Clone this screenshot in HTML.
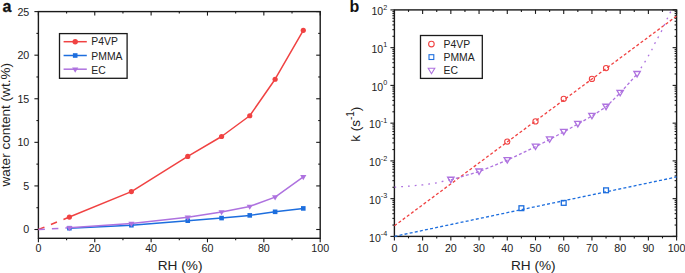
<!DOCTYPE html>
<html><head><meta charset="utf-8"><style>
html,body{margin:0;padding:0;background:#fff;}
body{width:685px;height:273px;overflow:hidden;}
svg{display:block;}
text{font-family:"Liberation Sans",sans-serif;fill:#222;}
</style></head><body>
<svg width="685" height="273" viewBox="0 0 685 273">
<rect width="685" height="273" fill="#fff"/>
<line x1="38.4" y1="238.3" x2="38.4" y2="242.3" stroke="#1a1a1a" stroke-width="1.1" />
<line x1="38.4" y1="11.6" x2="38.4" y2="15.6" stroke="#1a1a1a" stroke-width="1.1" />
<line x1="66.58" y1="238.3" x2="66.58" y2="240.3" stroke="#1a1a1a" stroke-width="1.1" />
<line x1="66.58" y1="11.6" x2="66.58" y2="13.6" stroke="#1a1a1a" stroke-width="1.1" />
<line x1="94.76" y1="238.3" x2="94.76" y2="242.3" stroke="#1a1a1a" stroke-width="1.1" />
<line x1="94.76" y1="11.6" x2="94.76" y2="15.6" stroke="#1a1a1a" stroke-width="1.1" />
<line x1="122.94" y1="238.3" x2="122.94" y2="240.3" stroke="#1a1a1a" stroke-width="1.1" />
<line x1="122.94" y1="11.6" x2="122.94" y2="13.6" stroke="#1a1a1a" stroke-width="1.1" />
<line x1="151.12" y1="238.3" x2="151.12" y2="242.3" stroke="#1a1a1a" stroke-width="1.1" />
<line x1="151.12" y1="11.6" x2="151.12" y2="15.6" stroke="#1a1a1a" stroke-width="1.1" />
<line x1="179.3" y1="238.3" x2="179.3" y2="240.3" stroke="#1a1a1a" stroke-width="1.1" />
<line x1="179.3" y1="11.6" x2="179.3" y2="13.6" stroke="#1a1a1a" stroke-width="1.1" />
<line x1="207.48" y1="238.3" x2="207.48" y2="242.3" stroke="#1a1a1a" stroke-width="1.1" />
<line x1="207.48" y1="11.6" x2="207.48" y2="15.6" stroke="#1a1a1a" stroke-width="1.1" />
<line x1="235.66" y1="238.3" x2="235.66" y2="240.3" stroke="#1a1a1a" stroke-width="1.1" />
<line x1="235.66" y1="11.6" x2="235.66" y2="13.6" stroke="#1a1a1a" stroke-width="1.1" />
<line x1="263.84" y1="238.3" x2="263.84" y2="242.3" stroke="#1a1a1a" stroke-width="1.1" />
<line x1="263.84" y1="11.6" x2="263.84" y2="15.6" stroke="#1a1a1a" stroke-width="1.1" />
<line x1="292.02" y1="238.3" x2="292.02" y2="240.3" stroke="#1a1a1a" stroke-width="1.1" />
<line x1="292.02" y1="11.6" x2="292.02" y2="13.6" stroke="#1a1a1a" stroke-width="1.1" />
<line x1="320.2" y1="238.3" x2="320.2" y2="242.3" stroke="#1a1a1a" stroke-width="1.1" />
<line x1="320.2" y1="11.6" x2="320.2" y2="15.6" stroke="#1a1a1a" stroke-width="1.1" />
<line x1="34.4" y1="229.5" x2="38.4" y2="229.5" stroke="#1a1a1a" stroke-width="1.1" />
<line x1="316.2" y1="229.5" x2="320.2" y2="229.5" stroke="#1a1a1a" stroke-width="1.1" />
<line x1="36.4" y1="207.71" x2="38.4" y2="207.71" stroke="#1a1a1a" stroke-width="1.1" />
<line x1="318.2" y1="207.71" x2="320.2" y2="207.71" stroke="#1a1a1a" stroke-width="1.1" />
<line x1="34.4" y1="185.92" x2="38.4" y2="185.92" stroke="#1a1a1a" stroke-width="1.1" />
<line x1="316.2" y1="185.92" x2="320.2" y2="185.92" stroke="#1a1a1a" stroke-width="1.1" />
<line x1="36.4" y1="164.13" x2="38.4" y2="164.13" stroke="#1a1a1a" stroke-width="1.1" />
<line x1="318.2" y1="164.13" x2="320.2" y2="164.13" stroke="#1a1a1a" stroke-width="1.1" />
<line x1="34.4" y1="142.34" x2="38.4" y2="142.34" stroke="#1a1a1a" stroke-width="1.1" />
<line x1="316.2" y1="142.34" x2="320.2" y2="142.34" stroke="#1a1a1a" stroke-width="1.1" />
<line x1="36.4" y1="120.55" x2="38.4" y2="120.55" stroke="#1a1a1a" stroke-width="1.1" />
<line x1="318.2" y1="120.55" x2="320.2" y2="120.55" stroke="#1a1a1a" stroke-width="1.1" />
<line x1="34.4" y1="98.76" x2="38.4" y2="98.76" stroke="#1a1a1a" stroke-width="1.1" />
<line x1="316.2" y1="98.76" x2="320.2" y2="98.76" stroke="#1a1a1a" stroke-width="1.1" />
<line x1="36.4" y1="76.97" x2="38.4" y2="76.97" stroke="#1a1a1a" stroke-width="1.1" />
<line x1="318.2" y1="76.97" x2="320.2" y2="76.97" stroke="#1a1a1a" stroke-width="1.1" />
<line x1="34.4" y1="55.18" x2="38.4" y2="55.18" stroke="#1a1a1a" stroke-width="1.1" />
<line x1="316.2" y1="55.18" x2="320.2" y2="55.18" stroke="#1a1a1a" stroke-width="1.1" />
<line x1="36.4" y1="33.39" x2="38.4" y2="33.39" stroke="#1a1a1a" stroke-width="1.1" />
<line x1="318.2" y1="33.39" x2="320.2" y2="33.39" stroke="#1a1a1a" stroke-width="1.1" />
<line x1="34.4" y1="11.6" x2="38.4" y2="11.6" stroke="#1a1a1a" stroke-width="1.1" />
<line x1="316.2" y1="11.6" x2="320.2" y2="11.6" stroke="#1a1a1a" stroke-width="1.1" />
<rect x="38.4" y="11.6" width="281.8" height="226.7" fill="none" stroke="#1a1a1a" stroke-width="1.4"/>
<text x="38.4" y="251.7" font-size="10.7" text-anchor="middle" font-weight="normal" >0</text>
<text x="94.76" y="251.7" font-size="10.7" text-anchor="middle" font-weight="normal" >20</text>
<text x="151.12" y="251.7" font-size="10.7" text-anchor="middle" font-weight="normal" >40</text>
<text x="207.48" y="251.7" font-size="10.7" text-anchor="middle" font-weight="normal" >60</text>
<text x="263.84" y="251.7" font-size="10.7" text-anchor="middle" font-weight="normal" >80</text>
<text x="320.2" y="251.7" font-size="10.7" text-anchor="middle" font-weight="normal" >100</text>
<text x="29.3" y="233.4" font-size="10.7" text-anchor="end" font-weight="normal" >0</text>
<text x="29.3" y="189.82" font-size="10.7" text-anchor="end" font-weight="normal" >5</text>
<text x="29.3" y="146.24" font-size="10.7" text-anchor="end" font-weight="normal" >10</text>
<text x="29.3" y="102.66" font-size="10.7" text-anchor="end" font-weight="normal" >15</text>
<text x="29.3" y="59.08" font-size="10.7" text-anchor="end" font-weight="normal" >20</text>
<text x="29.3" y="15.5" font-size="10.7" text-anchor="end" font-weight="normal" >25</text>
<text x="180.1" y="269.7" font-size="13.65" text-anchor="middle" font-weight="normal" >RH (%)</text>
<text transform="translate(10.2,124.75) rotate(-90)" font-size="13.55" text-anchor="middle">water content (wt.%)</text>
<text x="2.5" y="11.6" font-size="16" text-anchor="start" font-weight="bold" stroke="#111" stroke-width="0.3" style="fill:#111">a</text>
<polyline points="38.4,229.5 69.4,217.04" fill="none" stroke="#f04242" stroke-width="1.5" stroke-linejoin="round" stroke-dasharray="6.5,7"/>
<polyline points="38.4,229.5 69.4,227.84" fill="none" stroke="#ae72df" stroke-width="1.5" stroke-linejoin="round" stroke-dasharray="6.5,7"/>
<polyline points="69.4,228.19 131.39,225.23 187.75,220.7 221.57,218.08 249.75,215.38 275.11,211.81 303.29,208.41" fill="none" stroke="#1d6ede" stroke-width="1.5" stroke-linejoin="round" />
<rect x="67.1" y="225.89" width="4.6" height="4.6" fill="#1d6ede"/>
<rect x="129.09" y="222.93" width="4.6" height="4.6" fill="#1d6ede"/>
<rect x="185.45" y="218.4" width="4.6" height="4.6" fill="#1d6ede"/>
<rect x="219.27" y="215.78" width="4.6" height="4.6" fill="#1d6ede"/>
<rect x="247.45" y="213.08" width="4.6" height="4.6" fill="#1d6ede"/>
<rect x="272.81" y="209.51" width="4.6" height="4.6" fill="#1d6ede"/>
<rect x="300.99" y="206.11" width="4.6" height="4.6" fill="#1d6ede"/>
<polyline points="69.4,227.84 131.39,223.49 187.75,217.21 221.57,211.89 249.75,206.4 275.11,197.08 303.29,176.77" fill="none" stroke="#ae72df" stroke-width="1.5" stroke-linejoin="round" />
<polygon points="66.3,226.11 72.5,226.11 69.4,231.31" fill="#ae72df"/>
<polygon points="128.29,221.75 134.49,221.75 131.39,226.95" fill="#ae72df"/>
<polygon points="184.65,215.48 190.85,215.48 187.75,220.68" fill="#ae72df"/>
<polygon points="218.47,210.16 224.67,210.16 221.57,215.36" fill="#ae72df"/>
<polygon points="246.65,204.67 252.85,204.67 249.75,209.87" fill="#ae72df"/>
<polygon points="272.01,195.34 278.21,195.34 275.11,200.54" fill="#ae72df"/>
<polygon points="300.19,175.03 306.39,175.03 303.29,180.23" fill="#ae72df"/>
<polyline points="69.4,217.04 131.39,191.59 187.75,156.46 221.57,136.5 249.75,115.76 275.11,79.24 303.29,30.34" fill="none" stroke="#f04242" stroke-width="1.5" stroke-linejoin="round" />
<circle cx="69.4" cy="217.04" r="2.6" fill="#f04242"/>
<circle cx="131.39" cy="191.59" r="2.6" fill="#f04242"/>
<circle cx="187.75" cy="156.46" r="2.6" fill="#f04242"/>
<circle cx="221.57" cy="136.5" r="2.6" fill="#f04242"/>
<circle cx="249.75" cy="115.76" r="2.6" fill="#f04242"/>
<circle cx="275.11" cy="79.24" r="2.6" fill="#f04242"/>
<circle cx="303.29" cy="30.34" r="2.6" fill="#f04242"/>
<rect x="59.5" y="33.6" width="67.6" height="44.7" fill="white" stroke="#1a1a1a" stroke-width="1.3"/>
<line x1="63.6" y1="41.7" x2="86.8" y2="41.7" stroke="#f04242" stroke-width="1.5" />
<circle cx="75.2" cy="41.7" r="2.7" fill="#f04242"/>
<text x="91.3" y="45.4" font-size="10.4" text-anchor="start" font-weight="normal" >P4VP</text>
<line x1="63.6" y1="55.5" x2="86.8" y2="55.5" stroke="#1d6ede" stroke-width="1.5" />
<rect x="72.9" y="53.2" width="4.6" height="4.6" fill="#1d6ede"/>
<text x="91.3" y="59.8" font-size="10.4" text-anchor="start" font-weight="normal" >PMMA</text>
<line x1="63.6" y1="69.2" x2="86.8" y2="69.2" stroke="#ae72df" stroke-width="1.5" />
<polygon points="72.1,67.47 78.3,67.47 75.2,72.67" fill="#ae72df"/>
<text x="91.3" y="73.7" font-size="10.4" text-anchor="start" font-weight="normal" >EC</text>
<line x1="394.4" y1="236.4" x2="394.4" y2="240.4" stroke="#1a1a1a" stroke-width="1.1" />
<line x1="394.4" y1="9.9" x2="394.4" y2="13.9" stroke="#1a1a1a" stroke-width="1.1" />
<line x1="408.51" y1="236.4" x2="408.51" y2="238.4" stroke="#1a1a1a" stroke-width="1.1" />
<line x1="408.51" y1="9.9" x2="408.51" y2="11.9" stroke="#1a1a1a" stroke-width="1.1" />
<line x1="422.62" y1="236.4" x2="422.62" y2="240.4" stroke="#1a1a1a" stroke-width="1.1" />
<line x1="422.62" y1="9.9" x2="422.62" y2="13.9" stroke="#1a1a1a" stroke-width="1.1" />
<line x1="436.73" y1="236.4" x2="436.73" y2="238.4" stroke="#1a1a1a" stroke-width="1.1" />
<line x1="436.73" y1="9.9" x2="436.73" y2="11.9" stroke="#1a1a1a" stroke-width="1.1" />
<line x1="450.84" y1="236.4" x2="450.84" y2="240.4" stroke="#1a1a1a" stroke-width="1.1" />
<line x1="450.84" y1="9.9" x2="450.84" y2="13.9" stroke="#1a1a1a" stroke-width="1.1" />
<line x1="464.95" y1="236.4" x2="464.95" y2="238.4" stroke="#1a1a1a" stroke-width="1.1" />
<line x1="464.95" y1="9.9" x2="464.95" y2="11.9" stroke="#1a1a1a" stroke-width="1.1" />
<line x1="479.06" y1="236.4" x2="479.06" y2="240.4" stroke="#1a1a1a" stroke-width="1.1" />
<line x1="479.06" y1="9.9" x2="479.06" y2="13.9" stroke="#1a1a1a" stroke-width="1.1" />
<line x1="493.17" y1="236.4" x2="493.17" y2="238.4" stroke="#1a1a1a" stroke-width="1.1" />
<line x1="493.17" y1="9.9" x2="493.17" y2="11.9" stroke="#1a1a1a" stroke-width="1.1" />
<line x1="507.28" y1="236.4" x2="507.28" y2="240.4" stroke="#1a1a1a" stroke-width="1.1" />
<line x1="507.28" y1="9.9" x2="507.28" y2="13.9" stroke="#1a1a1a" stroke-width="1.1" />
<line x1="521.39" y1="236.4" x2="521.39" y2="238.4" stroke="#1a1a1a" stroke-width="1.1" />
<line x1="521.39" y1="9.9" x2="521.39" y2="11.9" stroke="#1a1a1a" stroke-width="1.1" />
<line x1="535.5" y1="236.4" x2="535.5" y2="240.4" stroke="#1a1a1a" stroke-width="1.1" />
<line x1="535.5" y1="9.9" x2="535.5" y2="13.9" stroke="#1a1a1a" stroke-width="1.1" />
<line x1="549.61" y1="236.4" x2="549.61" y2="238.4" stroke="#1a1a1a" stroke-width="1.1" />
<line x1="549.61" y1="9.9" x2="549.61" y2="11.9" stroke="#1a1a1a" stroke-width="1.1" />
<line x1="563.72" y1="236.4" x2="563.72" y2="240.4" stroke="#1a1a1a" stroke-width="1.1" />
<line x1="563.72" y1="9.9" x2="563.72" y2="13.9" stroke="#1a1a1a" stroke-width="1.1" />
<line x1="577.83" y1="236.4" x2="577.83" y2="238.4" stroke="#1a1a1a" stroke-width="1.1" />
<line x1="577.83" y1="9.9" x2="577.83" y2="11.9" stroke="#1a1a1a" stroke-width="1.1" />
<line x1="591.94" y1="236.4" x2="591.94" y2="240.4" stroke="#1a1a1a" stroke-width="1.1" />
<line x1="591.94" y1="9.9" x2="591.94" y2="13.9" stroke="#1a1a1a" stroke-width="1.1" />
<line x1="606.05" y1="236.4" x2="606.05" y2="238.4" stroke="#1a1a1a" stroke-width="1.1" />
<line x1="606.05" y1="9.9" x2="606.05" y2="11.9" stroke="#1a1a1a" stroke-width="1.1" />
<line x1="620.16" y1="236.4" x2="620.16" y2="240.4" stroke="#1a1a1a" stroke-width="1.1" />
<line x1="620.16" y1="9.9" x2="620.16" y2="13.9" stroke="#1a1a1a" stroke-width="1.1" />
<line x1="634.27" y1="236.4" x2="634.27" y2="238.4" stroke="#1a1a1a" stroke-width="1.1" />
<line x1="634.27" y1="9.9" x2="634.27" y2="11.9" stroke="#1a1a1a" stroke-width="1.1" />
<line x1="648.38" y1="236.4" x2="648.38" y2="240.4" stroke="#1a1a1a" stroke-width="1.1" />
<line x1="648.38" y1="9.9" x2="648.38" y2="13.9" stroke="#1a1a1a" stroke-width="1.1" />
<line x1="662.49" y1="236.4" x2="662.49" y2="238.4" stroke="#1a1a1a" stroke-width="1.1" />
<line x1="662.49" y1="9.9" x2="662.49" y2="11.9" stroke="#1a1a1a" stroke-width="1.1" />
<line x1="676.6" y1="236.4" x2="676.6" y2="240.4" stroke="#1a1a1a" stroke-width="1.1" />
<line x1="676.6" y1="9.9" x2="676.6" y2="13.9" stroke="#1a1a1a" stroke-width="1.1" />
<line x1="390.4" y1="236.4" x2="394.4" y2="236.4" stroke="#1a1a1a" stroke-width="1.1" />
<line x1="672.6" y1="236.4" x2="676.6" y2="236.4" stroke="#1a1a1a" stroke-width="1.1" />
<line x1="392.4" y1="225.04" x2="394.4" y2="225.04" stroke="#1a1a1a" stroke-width="1.1" />
<line x1="674.6" y1="225.04" x2="676.6" y2="225.04" stroke="#1a1a1a" stroke-width="1.1" />
<line x1="392.4" y1="218.39" x2="394.4" y2="218.39" stroke="#1a1a1a" stroke-width="1.1" />
<line x1="674.6" y1="218.39" x2="676.6" y2="218.39" stroke="#1a1a1a" stroke-width="1.1" />
<line x1="392.4" y1="213.67" x2="394.4" y2="213.67" stroke="#1a1a1a" stroke-width="1.1" />
<line x1="674.6" y1="213.67" x2="676.6" y2="213.67" stroke="#1a1a1a" stroke-width="1.1" />
<line x1="392.4" y1="210.01" x2="394.4" y2="210.01" stroke="#1a1a1a" stroke-width="1.1" />
<line x1="674.6" y1="210.01" x2="676.6" y2="210.01" stroke="#1a1a1a" stroke-width="1.1" />
<line x1="392.4" y1="207.02" x2="394.4" y2="207.02" stroke="#1a1a1a" stroke-width="1.1" />
<line x1="674.6" y1="207.02" x2="676.6" y2="207.02" stroke="#1a1a1a" stroke-width="1.1" />
<line x1="392.4" y1="204.5" x2="394.4" y2="204.5" stroke="#1a1a1a" stroke-width="1.1" />
<line x1="674.6" y1="204.5" x2="676.6" y2="204.5" stroke="#1a1a1a" stroke-width="1.1" />
<line x1="392.4" y1="202.31" x2="394.4" y2="202.31" stroke="#1a1a1a" stroke-width="1.1" />
<line x1="674.6" y1="202.31" x2="676.6" y2="202.31" stroke="#1a1a1a" stroke-width="1.1" />
<line x1="392.4" y1="200.38" x2="394.4" y2="200.38" stroke="#1a1a1a" stroke-width="1.1" />
<line x1="674.6" y1="200.38" x2="676.6" y2="200.38" stroke="#1a1a1a" stroke-width="1.1" />
<line x1="390.4" y1="198.65" x2="394.4" y2="198.65" stroke="#1a1a1a" stroke-width="1.1" />
<line x1="672.6" y1="198.65" x2="676.6" y2="198.65" stroke="#1a1a1a" stroke-width="1.1" />
<line x1="392.4" y1="187.29" x2="394.4" y2="187.29" stroke="#1a1a1a" stroke-width="1.1" />
<line x1="674.6" y1="187.29" x2="676.6" y2="187.29" stroke="#1a1a1a" stroke-width="1.1" />
<line x1="392.4" y1="180.64" x2="394.4" y2="180.64" stroke="#1a1a1a" stroke-width="1.1" />
<line x1="674.6" y1="180.64" x2="676.6" y2="180.64" stroke="#1a1a1a" stroke-width="1.1" />
<line x1="392.4" y1="175.92" x2="394.4" y2="175.92" stroke="#1a1a1a" stroke-width="1.1" />
<line x1="674.6" y1="175.92" x2="676.6" y2="175.92" stroke="#1a1a1a" stroke-width="1.1" />
<line x1="392.4" y1="172.26" x2="394.4" y2="172.26" stroke="#1a1a1a" stroke-width="1.1" />
<line x1="674.6" y1="172.26" x2="676.6" y2="172.26" stroke="#1a1a1a" stroke-width="1.1" />
<line x1="392.4" y1="169.27" x2="394.4" y2="169.27" stroke="#1a1a1a" stroke-width="1.1" />
<line x1="674.6" y1="169.27" x2="676.6" y2="169.27" stroke="#1a1a1a" stroke-width="1.1" />
<line x1="392.4" y1="166.75" x2="394.4" y2="166.75" stroke="#1a1a1a" stroke-width="1.1" />
<line x1="674.6" y1="166.75" x2="676.6" y2="166.75" stroke="#1a1a1a" stroke-width="1.1" />
<line x1="392.4" y1="164.56" x2="394.4" y2="164.56" stroke="#1a1a1a" stroke-width="1.1" />
<line x1="674.6" y1="164.56" x2="676.6" y2="164.56" stroke="#1a1a1a" stroke-width="1.1" />
<line x1="392.4" y1="162.63" x2="394.4" y2="162.63" stroke="#1a1a1a" stroke-width="1.1" />
<line x1="674.6" y1="162.63" x2="676.6" y2="162.63" stroke="#1a1a1a" stroke-width="1.1" />
<line x1="390.4" y1="160.9" x2="394.4" y2="160.9" stroke="#1a1a1a" stroke-width="1.1" />
<line x1="672.6" y1="160.9" x2="676.6" y2="160.9" stroke="#1a1a1a" stroke-width="1.1" />
<line x1="392.4" y1="149.54" x2="394.4" y2="149.54" stroke="#1a1a1a" stroke-width="1.1" />
<line x1="674.6" y1="149.54" x2="676.6" y2="149.54" stroke="#1a1a1a" stroke-width="1.1" />
<line x1="392.4" y1="142.89" x2="394.4" y2="142.89" stroke="#1a1a1a" stroke-width="1.1" />
<line x1="674.6" y1="142.89" x2="676.6" y2="142.89" stroke="#1a1a1a" stroke-width="1.1" />
<line x1="392.4" y1="138.17" x2="394.4" y2="138.17" stroke="#1a1a1a" stroke-width="1.1" />
<line x1="674.6" y1="138.17" x2="676.6" y2="138.17" stroke="#1a1a1a" stroke-width="1.1" />
<line x1="392.4" y1="134.51" x2="394.4" y2="134.51" stroke="#1a1a1a" stroke-width="1.1" />
<line x1="674.6" y1="134.51" x2="676.6" y2="134.51" stroke="#1a1a1a" stroke-width="1.1" />
<line x1="392.4" y1="131.52" x2="394.4" y2="131.52" stroke="#1a1a1a" stroke-width="1.1" />
<line x1="674.6" y1="131.52" x2="676.6" y2="131.52" stroke="#1a1a1a" stroke-width="1.1" />
<line x1="392.4" y1="129" x2="394.4" y2="129" stroke="#1a1a1a" stroke-width="1.1" />
<line x1="674.6" y1="129" x2="676.6" y2="129" stroke="#1a1a1a" stroke-width="1.1" />
<line x1="392.4" y1="126.81" x2="394.4" y2="126.81" stroke="#1a1a1a" stroke-width="1.1" />
<line x1="674.6" y1="126.81" x2="676.6" y2="126.81" stroke="#1a1a1a" stroke-width="1.1" />
<line x1="392.4" y1="124.88" x2="394.4" y2="124.88" stroke="#1a1a1a" stroke-width="1.1" />
<line x1="674.6" y1="124.88" x2="676.6" y2="124.88" stroke="#1a1a1a" stroke-width="1.1" />
<line x1="390.4" y1="123.15" x2="394.4" y2="123.15" stroke="#1a1a1a" stroke-width="1.1" />
<line x1="672.6" y1="123.15" x2="676.6" y2="123.15" stroke="#1a1a1a" stroke-width="1.1" />
<line x1="392.4" y1="111.79" x2="394.4" y2="111.79" stroke="#1a1a1a" stroke-width="1.1" />
<line x1="674.6" y1="111.79" x2="676.6" y2="111.79" stroke="#1a1a1a" stroke-width="1.1" />
<line x1="392.4" y1="105.14" x2="394.4" y2="105.14" stroke="#1a1a1a" stroke-width="1.1" />
<line x1="674.6" y1="105.14" x2="676.6" y2="105.14" stroke="#1a1a1a" stroke-width="1.1" />
<line x1="392.4" y1="100.42" x2="394.4" y2="100.42" stroke="#1a1a1a" stroke-width="1.1" />
<line x1="674.6" y1="100.42" x2="676.6" y2="100.42" stroke="#1a1a1a" stroke-width="1.1" />
<line x1="392.4" y1="96.76" x2="394.4" y2="96.76" stroke="#1a1a1a" stroke-width="1.1" />
<line x1="674.6" y1="96.76" x2="676.6" y2="96.76" stroke="#1a1a1a" stroke-width="1.1" />
<line x1="392.4" y1="93.77" x2="394.4" y2="93.77" stroke="#1a1a1a" stroke-width="1.1" />
<line x1="674.6" y1="93.77" x2="676.6" y2="93.77" stroke="#1a1a1a" stroke-width="1.1" />
<line x1="392.4" y1="91.25" x2="394.4" y2="91.25" stroke="#1a1a1a" stroke-width="1.1" />
<line x1="674.6" y1="91.25" x2="676.6" y2="91.25" stroke="#1a1a1a" stroke-width="1.1" />
<line x1="392.4" y1="89.06" x2="394.4" y2="89.06" stroke="#1a1a1a" stroke-width="1.1" />
<line x1="674.6" y1="89.06" x2="676.6" y2="89.06" stroke="#1a1a1a" stroke-width="1.1" />
<line x1="392.4" y1="87.13" x2="394.4" y2="87.13" stroke="#1a1a1a" stroke-width="1.1" />
<line x1="674.6" y1="87.13" x2="676.6" y2="87.13" stroke="#1a1a1a" stroke-width="1.1" />
<line x1="390.4" y1="85.4" x2="394.4" y2="85.4" stroke="#1a1a1a" stroke-width="1.1" />
<line x1="672.6" y1="85.4" x2="676.6" y2="85.4" stroke="#1a1a1a" stroke-width="1.1" />
<line x1="392.4" y1="74.04" x2="394.4" y2="74.04" stroke="#1a1a1a" stroke-width="1.1" />
<line x1="674.6" y1="74.04" x2="676.6" y2="74.04" stroke="#1a1a1a" stroke-width="1.1" />
<line x1="392.4" y1="67.39" x2="394.4" y2="67.39" stroke="#1a1a1a" stroke-width="1.1" />
<line x1="674.6" y1="67.39" x2="676.6" y2="67.39" stroke="#1a1a1a" stroke-width="1.1" />
<line x1="392.4" y1="62.67" x2="394.4" y2="62.67" stroke="#1a1a1a" stroke-width="1.1" />
<line x1="674.6" y1="62.67" x2="676.6" y2="62.67" stroke="#1a1a1a" stroke-width="1.1" />
<line x1="392.4" y1="59.01" x2="394.4" y2="59.01" stroke="#1a1a1a" stroke-width="1.1" />
<line x1="674.6" y1="59.01" x2="676.6" y2="59.01" stroke="#1a1a1a" stroke-width="1.1" />
<line x1="392.4" y1="56.02" x2="394.4" y2="56.02" stroke="#1a1a1a" stroke-width="1.1" />
<line x1="674.6" y1="56.02" x2="676.6" y2="56.02" stroke="#1a1a1a" stroke-width="1.1" />
<line x1="392.4" y1="53.5" x2="394.4" y2="53.5" stroke="#1a1a1a" stroke-width="1.1" />
<line x1="674.6" y1="53.5" x2="676.6" y2="53.5" stroke="#1a1a1a" stroke-width="1.1" />
<line x1="392.4" y1="51.31" x2="394.4" y2="51.31" stroke="#1a1a1a" stroke-width="1.1" />
<line x1="674.6" y1="51.31" x2="676.6" y2="51.31" stroke="#1a1a1a" stroke-width="1.1" />
<line x1="392.4" y1="49.38" x2="394.4" y2="49.38" stroke="#1a1a1a" stroke-width="1.1" />
<line x1="674.6" y1="49.38" x2="676.6" y2="49.38" stroke="#1a1a1a" stroke-width="1.1" />
<line x1="390.4" y1="47.65" x2="394.4" y2="47.65" stroke="#1a1a1a" stroke-width="1.1" />
<line x1="672.6" y1="47.65" x2="676.6" y2="47.65" stroke="#1a1a1a" stroke-width="1.1" />
<line x1="392.4" y1="36.29" x2="394.4" y2="36.29" stroke="#1a1a1a" stroke-width="1.1" />
<line x1="674.6" y1="36.29" x2="676.6" y2="36.29" stroke="#1a1a1a" stroke-width="1.1" />
<line x1="392.4" y1="29.64" x2="394.4" y2="29.64" stroke="#1a1a1a" stroke-width="1.1" />
<line x1="674.6" y1="29.64" x2="676.6" y2="29.64" stroke="#1a1a1a" stroke-width="1.1" />
<line x1="392.4" y1="24.92" x2="394.4" y2="24.92" stroke="#1a1a1a" stroke-width="1.1" />
<line x1="674.6" y1="24.92" x2="676.6" y2="24.92" stroke="#1a1a1a" stroke-width="1.1" />
<line x1="392.4" y1="21.26" x2="394.4" y2="21.26" stroke="#1a1a1a" stroke-width="1.1" />
<line x1="674.6" y1="21.26" x2="676.6" y2="21.26" stroke="#1a1a1a" stroke-width="1.1" />
<line x1="392.4" y1="18.27" x2="394.4" y2="18.27" stroke="#1a1a1a" stroke-width="1.1" />
<line x1="674.6" y1="18.27" x2="676.6" y2="18.27" stroke="#1a1a1a" stroke-width="1.1" />
<line x1="392.4" y1="15.75" x2="394.4" y2="15.75" stroke="#1a1a1a" stroke-width="1.1" />
<line x1="674.6" y1="15.75" x2="676.6" y2="15.75" stroke="#1a1a1a" stroke-width="1.1" />
<line x1="392.4" y1="13.56" x2="394.4" y2="13.56" stroke="#1a1a1a" stroke-width="1.1" />
<line x1="674.6" y1="13.56" x2="676.6" y2="13.56" stroke="#1a1a1a" stroke-width="1.1" />
<line x1="392.4" y1="11.63" x2="394.4" y2="11.63" stroke="#1a1a1a" stroke-width="1.1" />
<line x1="674.6" y1="11.63" x2="676.6" y2="11.63" stroke="#1a1a1a" stroke-width="1.1" />
<line x1="390.4" y1="9.9" x2="394.4" y2="9.9" stroke="#1a1a1a" stroke-width="1.1" />
<line x1="672.6" y1="9.9" x2="676.6" y2="9.9" stroke="#1a1a1a" stroke-width="1.1" />
<rect x="394.4" y="9.9" width="282.2" height="226.5" fill="none" stroke="#1a1a1a" stroke-width="1.4"/>
<text x="394.4" y="251.8" font-size="10.7" text-anchor="middle" font-weight="normal" >0</text>
<text x="422.62" y="251.8" font-size="10.7" text-anchor="middle" font-weight="normal" >10</text>
<text x="450.84" y="251.8" font-size="10.7" text-anchor="middle" font-weight="normal" >20</text>
<text x="479.06" y="251.8" font-size="10.7" text-anchor="middle" font-weight="normal" >30</text>
<text x="507.28" y="251.8" font-size="10.7" text-anchor="middle" font-weight="normal" >40</text>
<text x="535.5" y="251.8" font-size="10.7" text-anchor="middle" font-weight="normal" >50</text>
<text x="563.72" y="251.8" font-size="10.7" text-anchor="middle" font-weight="normal" >60</text>
<text x="591.94" y="251.8" font-size="10.7" text-anchor="middle" font-weight="normal" >70</text>
<text x="620.16" y="251.8" font-size="10.7" text-anchor="middle" font-weight="normal" >80</text>
<text x="648.38" y="251.8" font-size="10.7" text-anchor="middle" font-weight="normal" >90</text>
<text x="676.6" y="251.8" font-size="10.7" text-anchor="middle" font-weight="normal" >100</text>
<text x="387.2" y="241.6" font-size="10.5" text-anchor="end">10<tspan font-size="7.2" dy="-5.4">-4</tspan></text>
<text x="387.2" y="203.85" font-size="10.5" text-anchor="end">10<tspan font-size="7.2" dy="-5.4">-3</tspan></text>
<text x="387.2" y="166.1" font-size="10.5" text-anchor="end">10<tspan font-size="7.2" dy="-5.4">-2</tspan></text>
<text x="387.2" y="128.35" font-size="10.5" text-anchor="end">10<tspan font-size="7.2" dy="-5.4">-1</tspan></text>
<text x="387.2" y="90.6" font-size="10.5" text-anchor="end">10<tspan font-size="7.2" dy="-5.4">0</tspan></text>
<text x="387.2" y="52.85" font-size="10.5" text-anchor="end">10<tspan font-size="7.2" dy="-5.4">1</tspan></text>
<text x="387.2" y="15.1" font-size="10.5" text-anchor="end">10<tspan font-size="7.2" dy="-5.4">2</tspan></text>
<text x="533.3" y="269.8" font-size="13.65" text-anchor="middle" font-weight="normal" >RH (%)</text>
<text transform="translate(360.2,124.25) rotate(-90)" font-size="13.5" text-anchor="middle">k (s<tspan font-size="10" dy="-6.3">-1</tspan><tspan dy="6.3">)</tspan></text>
<text x="349.5" y="11.7" font-size="16" text-anchor="start" font-weight="bold" style="fill:#111">b</text>
<line x1="394.4" y1="225.83" x2="676.6" y2="16.09" stroke="#f04242" stroke-width="1.3" stroke-dasharray="3,2.2"/>
<line x1="394.4" y1="236.4" x2="676.6" y2="176.98" stroke="#1d6ede" stroke-width="1.3" stroke-dasharray="3,2.2"/>
<polyline points="450.84,179.85 479.06,171.6 507.28,160.15 535.5,146.75 549.61,139.5 563.72,131.9 577.83,124.05 591.94,116 606.05,106.85 620.16,93 637.09,74.1" fill="none" stroke="#ae72df" stroke-width="1.3" stroke-dasharray="3,2.2"/>
<polyline points="394.4,187.2 408.51,186.2 422.62,184.9 436.73,182.9 450.84,179.4" fill="none" stroke="#ae72df" stroke-width="1.3" stroke-dasharray="1.8,5"/>
<line x1="640.91" y1="68.05" x2="641.89" y2="66.55" stroke="#ae72df" stroke-width="1.3" />
<line x1="644.65" y1="62.38" x2="645.55" y2="60.82" stroke="#ae72df" stroke-width="1.3" />
<line x1="648.16" y1="56.28" x2="649.04" y2="54.72" stroke="#ae72df" stroke-width="1.3" />
<line x1="651.62" y1="50.31" x2="652.38" y2="48.69" stroke="#ae72df" stroke-width="1.3" />
<line x1="654.57" y1="43.89" x2="655.43" y2="42.31" stroke="#ae72df" stroke-width="1.3" />
<line x1="657.78" y1="38.09" x2="658.62" y2="36.51" stroke="#ae72df" stroke-width="1.3" />
<line x1="661.12" y1="31.92" x2="661.88" y2="30.28" stroke="#ae72df" stroke-width="1.3" />
<line x1="664.02" y1="25.62" x2="664.78" y2="23.98" stroke="#ae72df" stroke-width="1.3" />
<line x1="666.9" y1="19.31" x2="667.7" y2="17.69" stroke="#ae72df" stroke-width="1.3" />
<line x1="669.9" y1="13.21" x2="670.7" y2="11.59" stroke="#ae72df" stroke-width="1.3" />
<circle cx="507.28" cy="141.6" r="2.6" fill="none" stroke="#f04242" stroke-width="1.1"/>
<circle cx="535.5" cy="121.4" r="2.6" fill="none" stroke="#f04242" stroke-width="1.1"/>
<circle cx="563.72" cy="98.8" r="2.6" fill="none" stroke="#f04242" stroke-width="1.1"/>
<circle cx="591.94" cy="78.9" r="2.6" fill="none" stroke="#f04242" stroke-width="1.1"/>
<circle cx="606.05" cy="68.1" r="2.6" fill="none" stroke="#f04242" stroke-width="1.1"/>
<rect x="518.99" y="205.8" width="4.8" height="4.8" fill="none" stroke="#1d6ede" stroke-width="1.3"/>
<rect x="561.32" y="200.5" width="4.8" height="4.8" fill="none" stroke="#1d6ede" stroke-width="1.3"/>
<rect x="603.65" y="187.9" width="4.8" height="4.8" fill="none" stroke="#1d6ede" stroke-width="1.3"/>
<polygon points="447.64,177.25 454.04,177.25 450.84,182.65" fill="none" stroke="#ae72df" stroke-width="1.3"/>
<polygon points="475.86,169 482.26,169 479.06,174.4" fill="none" stroke="#ae72df" stroke-width="1.3"/>
<polygon points="504.08,157.55 510.48,157.55 507.28,162.95" fill="none" stroke="#ae72df" stroke-width="1.3"/>
<polygon points="532.3,144.15 538.7,144.15 535.5,149.55" fill="none" stroke="#ae72df" stroke-width="1.3"/>
<polygon points="546.41,136.9 552.81,136.9 549.61,142.3" fill="none" stroke="#ae72df" stroke-width="1.3"/>
<polygon points="560.52,129.3 566.92,129.3 563.72,134.7" fill="none" stroke="#ae72df" stroke-width="1.3"/>
<polygon points="574.63,121.45 581.03,121.45 577.83,126.85" fill="none" stroke="#ae72df" stroke-width="1.3"/>
<polygon points="588.74,113.4 595.14,113.4 591.94,118.8" fill="none" stroke="#ae72df" stroke-width="1.3"/>
<polygon points="602.85,104.25 609.25,104.25 606.05,109.65" fill="none" stroke="#ae72df" stroke-width="1.3"/>
<polygon points="616.96,90.4 623.36,90.4 620.16,95.8" fill="none" stroke="#ae72df" stroke-width="1.3"/>
<polygon points="633.89,71.5 640.29,71.5 637.09,76.9" fill="none" stroke="#ae72df" stroke-width="1.3"/>
<rect x="420.5" y="35.5" width="61.8" height="42.9" fill="white" stroke="#1a1a1a" stroke-width="1.3"/>
<circle cx="431.4" cy="44.1" r="2.8" fill="none" stroke="#f04242" stroke-width="1.1"/>
<rect x="429" y="54.7" width="4.8" height="4.8" fill="none" stroke="#1d6ede" stroke-width="1.1"/>
<polygon points="428.2,68.3 434.8,68.3 431.5,73.8" fill="none" stroke="#ae72df" stroke-width="1.1"/>
<text x="443.5" y="47.6" font-size="10.4" text-anchor="start" font-weight="normal" >P4VP</text>
<text x="443.5" y="61" font-size="10.4" text-anchor="start" font-weight="normal" >PMMA</text>
<text x="443.5" y="73.6" font-size="10.4" text-anchor="start" font-weight="normal" >EC</text>
</svg>
</body></html>
